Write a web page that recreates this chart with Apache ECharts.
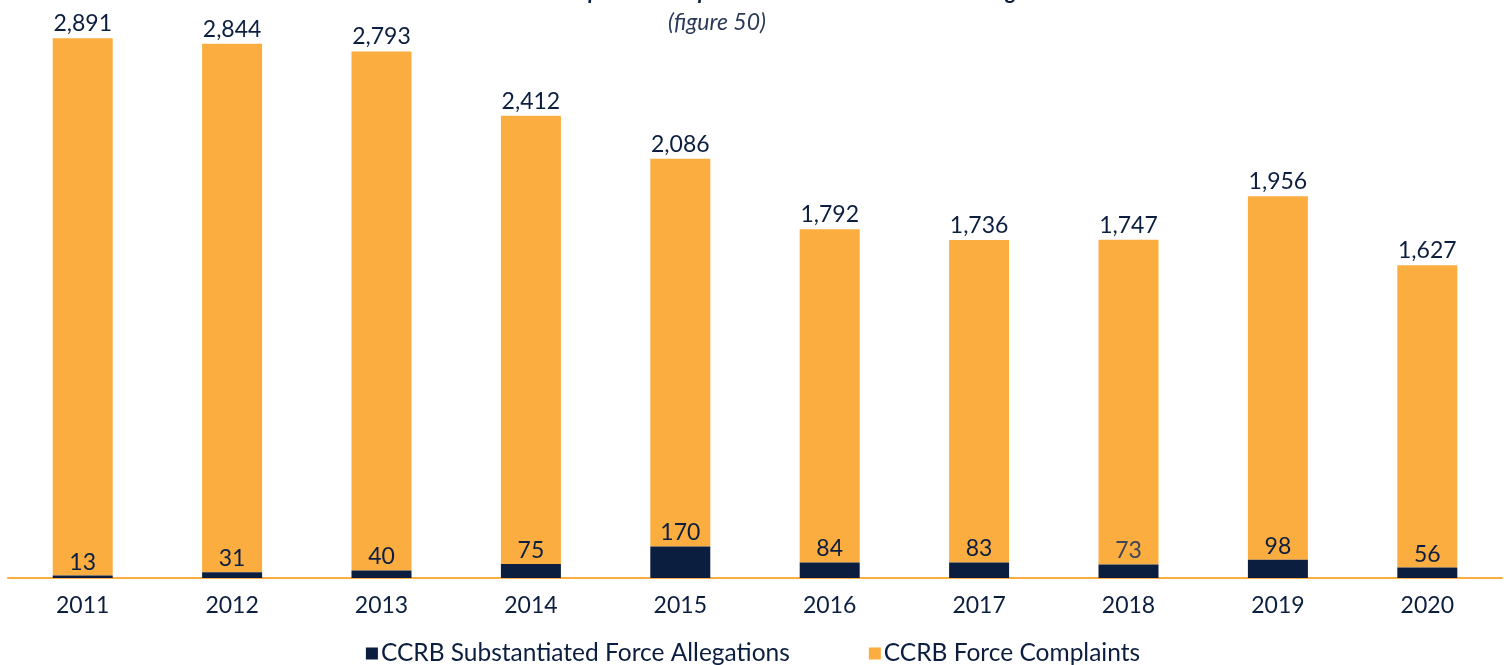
<!DOCTYPE html>
<html>
<head>
<meta charset="utf-8">
<title>CCRB Force Complaints and Substantiated Force Allegations</title>
<script src="https://cdn.jsdelivr.net/npm/echarts@6/dist/echarts.min.js"></script>
<style>
  html, body { margin: 0; padding: 0; background: #ffffff; }
  #chart { width: 1506px; height: 665px; }
</style>
</head>
<body>
<div id="chart"></div>
<script>
// Years shown along the category axis
const years = ['2011', '2012', '2013', '2014', '2015', '2016', '2017', '2018', '2019', '2020'];
// Total CCRB force complaints per year
const forceComplaints = [2891, 2844, 2793, 2412, 2086, 1792, 1736, 1747, 1956, 1627];
// CCRB substantiated force allegations per year
const substantiatedAllegations = [13, 31, 40, 75, 170, 84, 83, 73, 98, 56];

const NAVY = '#0c1e3f';
const ORANGE = '#fbad3f';
const FONT = 'Lato, "Open Sans", sans-serif';

const chart = echarts.init(document.getElementById('chart'), null, { renderer: 'canvas' });

const fmt = v => v.toLocaleString('en-US');

chart.setOption({
  animation: false,
  backgroundColor: '#ffffff',
  title: [
    {
      text: 'CCRB Force Complaints Compared to Substantiated Force Allegations',
      left: 'center',
      top: -24,
      textStyle: { fontFamily: FONT, fontSize: 22, fontWeight: 'bold', fontStyle: 'italic', color: NAVY }
    },
    {
      text: '(figure 50)',
      left: 663,
      top: 6,
      textStyle: { fontFamily: FONT, fontSize: 23, fontWeight: 'normal', fontStyle: 'italic', color: '#2b3a5a' }
    }
  ],
  legend: {
    data: ['CCRB Substantiated Force Allegations', 'CCRB Force Complaints'],
    top: 636,
    left: 'center',
    icon: 'rect',
    itemWidth: 12,
    itemHeight: 12,
    itemGap: 79,
    textStyle: { fontFamily: FONT, fontSize: 24.5, color: NAVY, padding: [0, 0, 0, -2] }
  },
  grid: { left: 8, right: 4, top: 0, bottom: 87, containLabel: false },
  xAxis: {
    type: 'category',
    data: years,
    axisLine: { show: true, lineStyle: { color: ORANGE, width: 2 } },
    axisTick: { show: false },
    axisLabel: { fontFamily: FONT, fontSize: 23, color: NAVY, margin: 16 }
  },
  yAxis: {
    type: 'value',
    min: 0,
    max: 3110,
    show: false,
    splitLine: { show: false }
  },
  series: [
    {
      name: 'CCRB Substantiated Force Allegations',
      type: 'bar',
      stack: 'force',
      data: substantiatedAllegations.map((v, i) => i === 7
        ? { value: v, label: { color: '#3d4656' } }
        : v),
      barWidth: 60,
      z: 3,
      itemStyle: { color: NAVY },
      label: {
        show: true,
        position: 'top',
        distance: 2,
        fontFamily: FONT,
        fontSize: 23,
        color: NAVY,
        formatter: p => fmt(p.value)
      }
    },
    {
      name: 'CCRB Force Complaints',
      type: 'bar',
      stack: 'force',
      data: forceComplaints,
      barWidth: 60,
      z: 2,
      itemStyle: { color: ORANGE },
      label: {
        show: true,
        position: 'top',
        distance: 3,
        fontFamily: FONT,
        fontSize: 23,
        color: NAVY,
        formatter: p => fmt(p.value)
      }
    }
  ]
});
</script>
</body>
</html>
